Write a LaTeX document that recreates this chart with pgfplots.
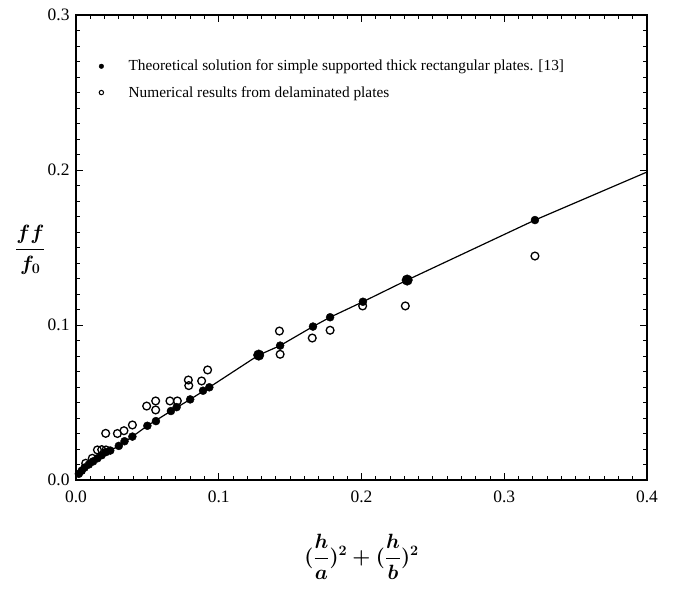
\documentclass[border=0pt]{standalone}
\usepackage{fontspec}
\setmainfont{Liberation Serif}
\usepackage{amsmath}
\usepackage{pgfplots}
\pgfplotsset{compat=1.18}
\begin{document}
\begin{tikzpicture}
\begin{axis}[
  scale only axis, width=571bp, height=465bp,
  xmin=0, xmax=0.4, ymin=0, ymax=0.3,
  xtick={0,0.1,0.2,0.3,0.4}, ytick={0,0.1,0.2,0.3},
  minor tick num=9,
  tick align=inside, tick pos=both,
  major tick length=7bp, minor tick length=4bp,
  axis line style={line width=1.5bp},
  every tick/.style={black, line width=0.9bp},
  /pgf/number format/fixed, /pgf/number format/fixed zerofill,
  /pgf/number format/precision=1, /pgf/number format/assume math mode=true,
  tick label style={font=\fontsize{17.5}{17.5}\selectfont},
  xticklabel style={yshift=-7bp},
  yticklabel style={xshift=-3bp},
  xlabel={$\displaystyle\boldsymbol{(\frac{h}{a})^2+(\frac{h}{b})^2}$},
  xlabel style={at={(axis description cs:0.5,-0.165)}, anchor=center, font=\fontsize{20}{20}\selectfont},
  ylabel={$\displaystyle\boldsymbol{\frac{ff}{f_0}}$},
  ylabel style={at={(axis description cs:-0.08,0.495)}, anchor=center, rotate=-90, font=\fontsize{21}{21}\selectfont},
  legend style={at={(axis cs:0.0147,0.2723)}, anchor=north west, draw=none, fill=none,
    font=\fontsize{15.4}{17}\selectfont, row sep=10bp, inner sep=0pt},
  legend cell align=left,
]
\addplot[line width=1.2bp, forget plot] coordinates {
(0.002,0.003) (0.006,0.0075) (0.012,0.012) (0.018,0.016) (0.024,0.019)
(0.030,0.022) (0.0395,0.028) (0.050,0.035) (0.0665,0.0445) (0.080,0.052)
(0.0934,0.0598) (0.128,0.0806) (0.143,0.0867) (0.166,0.099) (0.178,0.105)
(0.201,0.115) (0.232,0.129) (0.3215,0.1677) (0.4,0.1987)};
\addplot[only marks, mark=*, mark size=4bp, black,
  legend image code/.code={\path (0,0) (29bp,0); \fill[black] (4bp,0) circle (2.3bp);}] coordinates {
(0.002,0.004) (0.004,0.006) (0.006,0.008) (0.009,0.010) (0.012,0.012)
(0.015,0.014) (0.018,0.016) (0.021,0.018) (0.024,0.019) (0.030,0.022)
(0.034,0.025) (0.0395,0.028) (0.050,0.035) (0.056,0.038) (0.0665,0.0445)
(0.0705,0.047) (0.080,0.052) (0.089,0.0576) (0.0934,0.0598) (0.143,0.0867)
(0.166,0.099) (0.178,0.105) (0.201,0.115) (0.3215,0.1677)};
\addlegendentry{Theoretical solution for simple supported thick rectangular plates. [13]}
\addplot[only marks, mark=o, mark size=3.9bp, black, mark options={line width=1.3bp},
  legend image code/.code={\path (0,0) (29bp,0); \draw[black, line width=1bp] (4bp,0) circle (2.2bp);}] coordinates {
(0.0068,0.0108) (0.0114,0.014) (0.015,0.0194) (0.018,0.0196) (0.021,0.0194)
(0.0208,0.0301) (0.029,0.030) (0.0336,0.0318) (0.0395,0.0355) (0.0495,0.0477)
(0.0558,0.051) (0.0558,0.0452) (0.0658,0.051) (0.071,0.051) (0.0787,0.0645)
(0.079,0.0609) (0.088,0.0639) (0.0922,0.071) (0.1425,0.0961) (0.143,0.0811)
(0.1655,0.0916) (0.178,0.0966) (0.2008,0.1123) (0.2307,0.1123) (0.3215,0.1445)};
\addlegendentry{Numerical results from delaminated plates}
\addplot[only marks, mark=*, mark size=5.3bp, black, forget plot] coordinates {
(0.128,0.0806) (0.232,0.129)};
\end{axis}
\pgfresetboundingbox
\useasboundingbox ([xshift=-76bp,yshift=-110bp]current axis.south west) rectangle ([xshift=26bp,yshift=15bp]current axis.north east);
\end{tikzpicture}
\end{document}
